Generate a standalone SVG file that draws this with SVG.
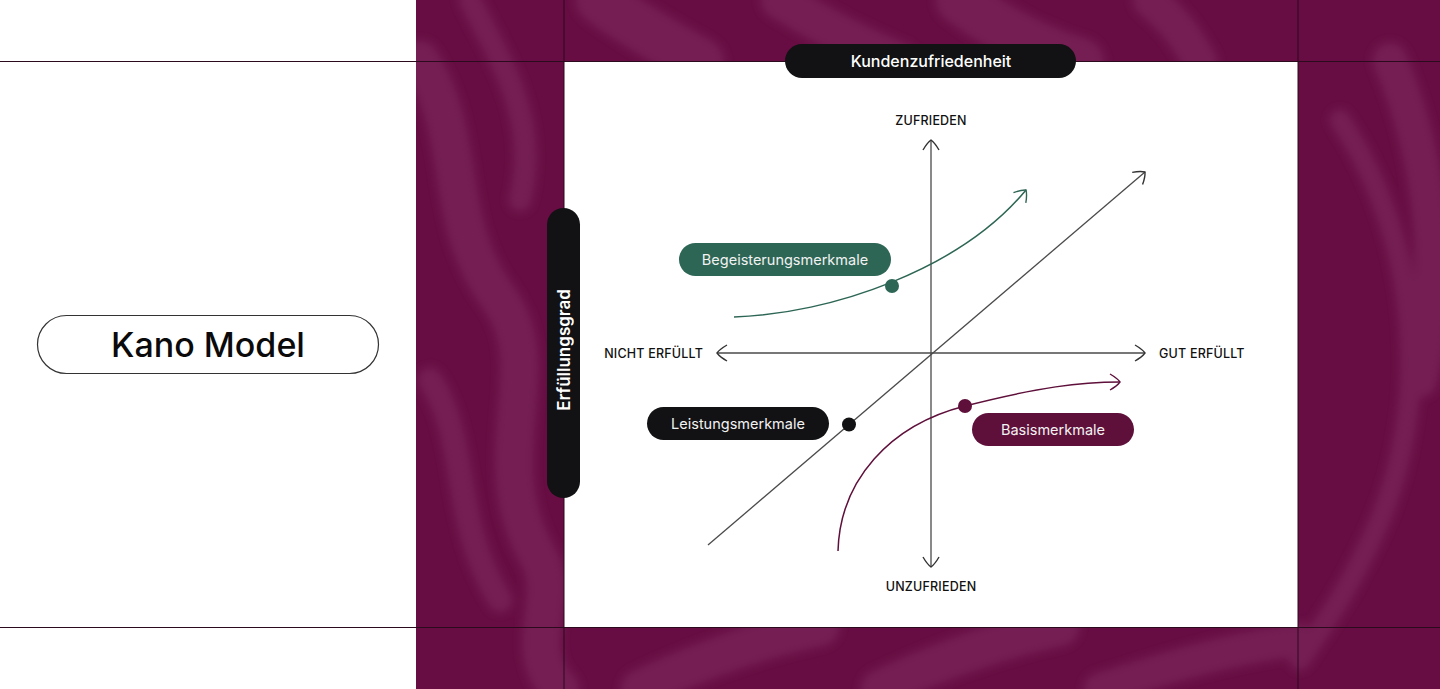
<svg xmlns="http://www.w3.org/2000/svg" width="1440" height="689" viewBox="0 0 1440 689">
<style>
.ax{stroke:#4a4a4a;stroke-width:1.3;fill:none}
.lbl{font-family:Inter,"Noto Sans",sans-serif;font-size:12.5px;font-weight:500;fill:#111;letter-spacing:0.2px}
.pill{font-family:Inter,"Noto Sans",sans-serif;font-size:14.5px;fill:#f2f2f2}
.hdr{font-family:Inter,"Noto Sans",sans-serif;font-size:16px;font-weight:500;fill:#fff}
.vhdr{font-family:Inter,"Noto Sans",sans-serif;font-size:17px;font-weight:600;fill:#fff}
.rib{fill:none;stroke:#93467a;stroke-linecap:round}
.grid{stroke:#2a0a1c;stroke-width:1;fill:none}
</style>
<defs>
<clipPath id="pc"><rect x="416" y="0" width="1024" height="689"/></clipPath>
<filter id="soft" x="-20%" y="-20%" width="140%" height="140%"><feGaussianBlur stdDeviation="5"/></filter>
<marker id="ak" markerUnits="userSpaceOnUse" markerWidth="24" markerHeight="24" refX="0" refY="0" viewBox="-12 -12 24 24" orient="auto" overflow="visible">
<path d="M-10,-8 Q-3,-4 0,0 Q-3,4 -10,8" fill="none" stroke="#333" stroke-width="1.4"/>
</marker>
<marker id="ag" markerUnits="userSpaceOnUse" markerWidth="24" markerHeight="24" refX="0" refY="0" viewBox="-12 -12 24 24" orient="auto" overflow="visible">
<path d="M-10,-8 Q-3,-4 0,0 Q-3,4 -10,8" fill="none" stroke="#2d6655" stroke-width="1.4"/>
</marker>
<marker id="ap" markerUnits="userSpaceOnUse" markerWidth="24" markerHeight="24" refX="0" refY="0" viewBox="-12 -12 24 24" orient="auto" overflow="visible">
<path d="M-10,-8 Q-3,-4 0,0 Q-3,4 -10,8" fill="none" stroke="#5e0f3a" stroke-width="1.4"/>
</marker>
</defs>

<g id="background">
<rect x="0" y="0" width="1440" height="689" fill="#ffffff"/>
<rect x="416" y="0" width="1024" height="689" fill="#670d43"/>
<g clip-path="url(#pc)">
<g opacity="0.3" filter="url(#soft)">
<path class="rib" stroke-width="40" d="M420,60 C470,140 440,220 500,300 C550,370 480,460 540,560 C560,600 520,650 560,689"/>
<path class="rib" stroke-width="24" d="M470,0 C500,60 540,120 520,200"/>
<path class="rib" stroke-width="26" d="M430,380 C470,440 450,520 500,600"/>
<path class="rib" stroke-width="50" d="M600,0 C640,30 680,50 700,62"/>
<path class="rib" stroke-width="40" d="M780,0 C820,25 860,45 900,62"/>
<path class="rib" stroke-width="50" d="M960,0 C1000,30 1040,50 1080,62"/>
<path class="rib" stroke-width="36" d="M1150,0 C1180,25 1190,45 1200,62"/>
<path class="rib" stroke-width="22" d="M1340,120 C1420,240 1430,400 1380,520 C1350,590 1320,630 1300,660"/>
<path class="rib" stroke-width="36" d="M1390,60 C1440,180 1440,300 1420,380"/>
<path class="rib" stroke-width="40" d="M640,689 C700,660 760,640 820,627"/>
<path class="rib" stroke-width="40" d="M880,689 C940,660 1000,640 1060,627"/>
<path class="rib" stroke-width="34" d="M1100,689 C1160,670 1220,650 1298,640"/>
</g>
</g>
<rect x="564" y="62" width="734" height="565" fill="#ffffff"/>
<line class="grid" x1="0" y1="61.5" x2="1440" y2="61.5"/>
<line class="grid" x1="0" y1="627.5" x2="1440" y2="627.5"/>
<line class="grid" x1="564" y1="0" x2="564" y2="689"/>
<line class="grid" x1="1298" y1="0" x2="1298" y2="689"/>
</g>

<g id="connectors">
<line class="ax" x1="931" y1="353" x2="931" y2="140" marker-end="url(#ak)"/>
<line class="ax" x1="931" y1="353" x2="931" y2="567" marker-end="url(#ak)"/>
<line class="ax" x1="931" y1="353" x2="1145" y2="353" marker-end="url(#ak)"/>
<line class="ax" x1="931" y1="353" x2="717" y2="353" marker-end="url(#ak)"/>
<line class="ax" x1="708" y1="545" x2="1145" y2="172" marker-end="url(#ak)"/>
<path d="M734,317 C830,314 960,270 1026,190" fill="none" stroke="#2d6655" stroke-width="1.5" marker-end="url(#ag)"/>
<path d="M838,551 C840,480 890,425 965,406 S1080,382 1120,382" fill="none" stroke="#5e0f3a" stroke-width="1.5" marker-end="url(#ap)"/>
</g>

<g id="axis-labels">
<text class="lbl" x="931" y="125" text-anchor="middle">ZUFRIEDEN</text>
<text class="lbl" x="931" y="591" text-anchor="middle">UNZUFRIEDEN</text>
<text class="lbl" x="703" y="358" text-anchor="end">NICHT ERFÜLLT</text>
<text class="lbl" x="1159" y="358">GUT ERFÜLLT</text>
</g>

<g id="kano-title">
<rect x="37.5" y="315.5" width="341" height="58" rx="29" fill="#fff" stroke="#333" stroke-width="1.2"/>
<text x="208" y="357" text-anchor="middle" font-family="Inter,'Noto Sans',sans-serif" font-size="34" font-weight="500" fill="#0a0a0a">Kano Model</text>
</g>

<g id="kundenzufriedenheit">
<rect x="785" y="44" width="291" height="34" rx="17" fill="#121113"/>
<text class="hdr" x="931" y="67" text-anchor="middle">Kundenzufriedenheit</text>
</g>

<g id="erfuellungsgrad">
<rect x="547" y="208" width="33" height="290" rx="16.5" fill="#121113"/>
<text class="vhdr" transform="translate(570,350) rotate(-90)" text-anchor="middle">Erfüllungsgrad</text>
</g>

<g id="begeisterungsmerkmale">
<rect x="679" y="243" width="212" height="33" rx="16.5" fill="#2d6655"/>
<text class="pill" x="785" y="265" text-anchor="middle">Begeisterungsmerkmale</text>
<circle cx="892" cy="286" r="7" fill="#2d6655"/>
</g>

<g id="leistungsmerkmale">
<rect x="647" y="407" width="182" height="33" rx="16.5" fill="#121113"/>
<text class="pill" x="738" y="429" text-anchor="middle">Leistungsmerkmale</text>
<circle cx="849" cy="424.5" r="7" fill="#121113"/>
</g>

<g id="basismerkmale">
<rect x="972" y="413" width="162" height="33" rx="16.5" fill="#5e0f3a"/>
<text class="pill" x="1053" y="435" text-anchor="middle">Basismerkmale</text>
<circle cx="965" cy="406" r="7" fill="#5e0f3a"/>
</g>
</svg>
